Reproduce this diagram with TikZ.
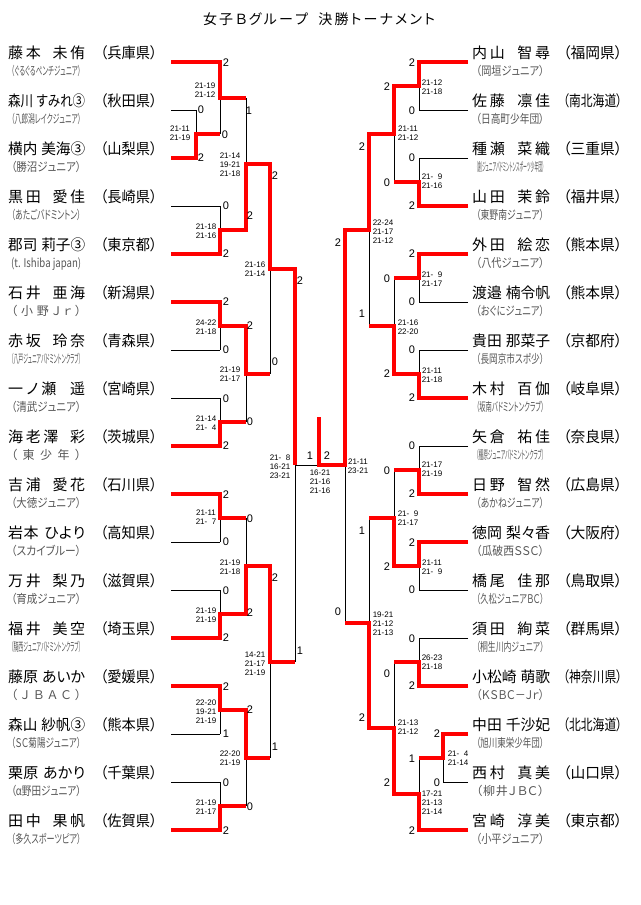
\documentclass[tikz,border=0pt]{standalone}
\usepackage{fontspec}
\usepackage{graphicx}
\newfontfamily\jp{Noto Sans CJK JP}[RawFeature=+palt]
\newfontfamily\lsans{Liberation Sans}
\definecolor{clubgray}{RGB}{85,85,85}
\makeatletter
\def\sprd#1{\sprd@a#1\relax}
\def\sprd@a#1{#1\sprd@b}
\def\sprd@b#1{\ifx#1\relax\else\hfil#1\expandafter\sprd@b\fi}
\makeatother
\newsavebox\fbx
\newcommand\fitbox[2]{\sbox\fbx{#2}\ifdim\wd\fbx>#1\relax\resizebox{#1}{\height}{\usebox\fbx}\else\hbox to #1{#2}\fi}
\tikzset{
 bk/.style={line width=1pt, black},
 rd/.style={line width=3.6pt, red, line join=miter},
 nm/.style={inner sep=0pt, anchor=base west, font=\jp\fontsize{15}{18}\selectfont},
 clb/.style={inner sep=0pt, anchor=base west, font=\jp\fontsize{12}{14}\selectfont, text=clubgray},
 num/.style={inner sep=0pt, anchor=base, font=\lsans\fontsize{11}{13}\selectfont},
 sc/.style={inner sep=0pt, anchor=base, font=\lsans\fontsize{8}{9}\selectfont},
 ttl/.style={inner sep=0pt, anchor=base, font=\jp\fontsize{14}{16}\selectfont},
}
\newcommand\PL[5]{%
 \node[nm] (Ln#1) at (8,#1-3.5) {\fitbox{77pt}{\sprd{#2}\hskip 4pt plus 3fil\sprd{#3}}};
 \node[nm] (Lp#1) at (100,#1-3.5) {\fitbox{57pt}{\sprd{（#4）}}};
 \node[clb] (Lc#1) at (11,#1+13.3) {\fitbox{70pt}{\sprd{#5}}};
}
\newcommand\PR[5]{%
 \node[nm] (Rn#1) at (472,#1-3.5) {\fitbox{78pt}{\sprd{#2}\hskip 4pt plus 3fil\sprd{#3}}};
 \node[nm] (Rp#1) at (563,#1-3.5) {\fitbox{59pt}{\sprd{（#4）}}};
 \node[clb] (Rc#1) at (476,#1+13.3) {\fitbox{68pt}{\sprd{#5}}};
}
\newcommand\SN[3]{\node[num] (N#1x#2) at (#1,#2+4) {#3};}
\newcommand\ST[3]{\foreach \scoretxt [count=\scorei] in {#3} {\node[sc] (S#1x#2x\scorei) at (#1,{#2+2.9+(\scorei-1)*8.7}) {\scoretxt};}}
\newcommand\MT[4]{\draw[bk] (#1,#2) -- (#1,#3) (#1,{(#2+#3)/2}) -- (#4,{(#2+#3)/2});}
\begin{document}
\begin{tikzpicture}[x=1pt,y=-1pt]
\useasboundingbox (0,0) rectangle (640,905);
\node[ttl] (title) at (319,24) {\hbox to 232pt{\sprd{女子Ｂグループ}\hskip 6pt plus 2fil\sprd{決勝トーナメント}}};

% ---------- left skeleton ----------
\foreach \yy in {62,206,254,302,350,398,446,494,542,590,638,686,734,782,830} {\draw[bk] (171,\yy) -- (220,\yy);}
\foreach \yy in {110,158} {\draw[bk] (171,\yy) -- (196,\yy);}
\MT{196}{110}{158}{220}
\MT{220}{62}{134}{246}
\MT{220}{206}{254}{246}
\MT{246}{98}{230}{270}
\MT{220}{302}{350}{246}
\MT{220}{398}{446}{246}
\MT{246}{326}{422}{270}
\MT{270}{164}{374}{295}
\MT{220}{494}{542}{246}
\MT{220}{590}{638}{246}
\MT{246}{518}{614}{270}
\MT{220}{686}{734}{246}
\MT{220}{782}{830}{246}
\MT{246}{710}{806}{270}
\MT{270}{566}{758}{295}
\draw[bk] (295,269) -- (295,662);
% ---------- right skeleton ----------
\foreach \yy in {62,110,158,206,254,302,350,398,446,494,542,590,638,686,830} {\draw[bk] (468,\yy) -- (419,\yy);}
\foreach \yy in {734,782} {\draw[bk] (468,\yy) -- (443,\yy);}
\MT{419}{62}{110}{394}
\MT{419}{158}{206}{394}
\MT{394}{86}{182}{369}
\MT{419}{254}{302}{394}
\MT{419}{350}{398}{394}
\MT{394}{278}{374}{369}
\MT{369}{134}{326}{345}
\MT{419}{446}{494}{394}
\MT{419}{542}{590}{394}
\MT{394}{470}{566}{369}
\MT{419}{638}{686}{394}
\MT{443}{734}{782}{419}
\MT{419}{758}{830}{394}
\MT{394}{662}{794}{369}
\MT{369}{518}{728}{345}
\draw[bk] (345,230) -- (345,623);
\draw[bk] (295,465) -- (345,465);

% ---------- red winner paths ----------
\draw[rd] (171,62) -- (220,62) -- (220,98) -- (246,98);
\draw[rd] (171,158) -- (196,158) -- (196,134) -- (220,134);
\draw[rd] (171,254) -- (220,254) -- (220,230) -- (246,230) -- (246,164) -- (270,164) -- (270,269) -- (295,269) -- (295,465);
\draw[rd] (171,302) -- (220,302) -- (220,326) -- (246,326) -- (246,374) -- (270,374);
\draw[rd] (171,446) -- (220,446) -- (220,422) -- (246,422);
\draw[rd] (171,494) -- (220,494) -- (220,518) -- (246,518);
\draw[rd] (171,638) -- (220,638) -- (220,614) -- (246,614) -- (246,566) -- (270,566) -- (270,662) -- (295,662);
\draw[rd] (171,686) -- (220,686) -- (220,710) -- (246,710) -- (246,758) -- (270,758);
\draw[rd] (171,830) -- (220,830) -- (220,806) -- (246,806);
\draw[rd] (468,62) -- (419,62) -- (419,86) -- (394,86) -- (394,134) -- (369,134) -- (369,230) -- (345,230) -- (345,465) -- (319,465) -- (319,417);
\draw[rd] (468,206) -- (419,206) -- (419,182) -- (394,182);
\draw[rd] (468,254) -- (419,254) -- (419,278) -- (394,278);
\draw[rd] (468,398) -- (419,398) -- (419,374) -- (394,374) -- (394,326) -- (369,326);
\draw[rd] (468,494) -- (419,494) -- (419,470) -- (394,470);
\draw[rd] (468,542) -- (419,542) -- (419,566) -- (394,566) -- (394,518) -- (369,518);
\draw[rd] (468,686) -- (419,686) -- (419,662) -- (394,662);
\draw[rd] (468,734) -- (443,734) -- (443,758) -- (419,758);
\draw[rd] (468,830) -- (419,830) -- (419,794) -- (394,794) -- (394,728) -- (369,728) -- (369,623) -- (345,623);

% ---------- players ----------
\PL{62}{藤本}{未侑}{兵庫県}{（ぐるぐるペンチジュニア）}
\PL{110}{森川}{すみれ③}{秋田県}{（八郎潟レイクジュニア）}
\PL{158}{横内}{美海③}{山梨県}{（勝沼ジュニア）}
\PL{206}{黒田}{愛佳}{長崎県}{（あたごバドミントン）}
\PL{254}{郡司}{莉子③}{東京都}{{(t. Ishiba japan)}}
\PL{302}{石井}{亜海}{新潟県}{（小野Ｊｒ）}
\PL{350}{赤坂}{玲奈}{青森県}{（八戸ジュニアバドミントンクラブ）}
\PL{398}{一ノ瀬}{遥}{宮崎県}{（清武ジュニア）}
\PL{446}{海老澤}{彩}{茨城県}{（東少年）}
\PL{494}{吉浦}{愛花}{石川県}{（大徳ジュニア）}
\PL{542}{岩本}{ひより}{高知県}{（スカイブルー）}
\PL{590}{万井}{梨乃}{滋賀県}{（育成ジュニア）}
\PL{638}{福井}{美空}{埼玉県}{（騎西ジュニアバドミントンクラブ）}
\PL{686}{藤原}{あいか}{愛媛県}{（ＪＢＡＣ）}
\PL{734}{森山}{紗帆③}{熊本県}{（ＳＣ菊陽ジュニア）}
\PL{782}{栗原}{あかり}{千葉県}{（α野田ジュニア）}
\PL{830}{田中}{果帆}{佐賀県}{（多久スポーツピア）}

\PR{62}{内山}{智尋}{福岡県}{（岡垣ジュニア）}
\PR{110}{佐藤}{凛佳}{南北海道}{（日高町少年団）}
\PR{158}{種瀬}{菜織}{三重県}{（創ジュニアバドミントンスポーツ少年団）}
\PR{206}{山田}{茉鈴}{福井県}{（東野南ジュニア）}
\PR{254}{外田}{絵恋}{熊本県}{（八代ジュニア）}
\PR{302}{渡邉}{楠令帆}{熊本県}{（おぐにジュニア）}
\PR{350}{貴田}{那菜子}{京都府}{（長岡京市スポ少）}
\PR{398}{木村}{百伽}{岐阜県}{（坂南バドミントンクラブ）}
\PR{446}{矢倉}{祐佳}{奈良県}{（橿原ジュニアバドミントンクラブ）}
\PR{494}{日野}{智然}{広島県}{（あかねジュニア）}
\PR{542}{徳岡}{梨々香}{大阪府}{（瓜破西ＳＳＣ）}
\PR{590}{橋尾}{佳那}{鳥取県}{（久松ジュニアＢＣ）}
\PR{638}{須田}{絢菜}{群馬県}{（桐生川内ジュニア）}
\PR{686}{小松崎}{萌歌}{神奈川県}{（ＫＳＢＣ－Ｊｒ）}
\PR{734}{中田}{千沙妃}{北北海道}{（旭川東栄少年団）}
\PR{782}{西村}{真美}{山口県}{（柳井ＪＢＣ）}
\PR{830}{宮崎}{淳美}{東京都}{（小平ジュニア）}

% ---------- game counts, left ----------
\SN{226}{62}{2}\SN{201}{109}{0}\SN{201}{157}{2}\SN{225}{134}{0}\SN{249}{110}{1}
\SN{226}{205}{0}\SN{226}{253}{2}\SN{250}{215}{2}\SN{275}{175}{2}
\SN{226}{301}{2}\SN{226}{349}{0}\SN{250}{325}{2}\SN{226}{398}{0}\SN{226}{445}{2}
\SN{250}{421}{0}\SN{275}{361}{0}\SN{300}{280}{2}
\SN{226}{494}{2}\SN{226}{541}{0}\SN{250}{518}{0}\SN{226}{590}{0}\SN{226}{637}{2}
\SN{250}{612}{2}\SN{275}{577}{2}
\SN{226}{686}{2}\SN{226}{733}{1}\SN{250}{709}{2}\SN{226}{782}{0}\SN{226}{830}{2}
\SN{250}{806}{0}\SN{275}{746}{1}\SN{300}{650}{1}
\SN{310}{455}{1}\SN{327}{455}{2}
% ---------- game counts, right ----------
\SN{412}{62}{2}\SN{412}{110}{0}\SN{387}{86}{2}\SN{412}{157}{0}\SN{412}{205}{2}
\SN{387}{182}{0}\SN{362}{146}{2}
\SN{412}{253}{2}\SN{412}{301}{0}\SN{387}{278}{0}\SN{412}{349}{0}\SN{412}{397}{2}
\SN{387}{373}{2}\SN{362}{313}{1}\SN{338}{242}{2}
\SN{412}{445}{0}\SN{412}{493}{2}\SN{387}{470}{0}\SN{412}{542}{2}\SN{412}{589}{0}
\SN{387}{566}{2}\SN{362}{530}{1}
\SN{412}{638}{0}\SN{412}{685}{2}\SN{387}{673}{0}\SN{437}{733}{2}\SN{437}{782}{0}
\SN{412}{758}{1}\SN{412}{830}{2}\SN{387}{782}{2}\SN{362}{717}{2}\SN{338}{611}{0}

% ---------- set scores, left ----------
\ST{205}{86}{21-19,21-12}
\ST{180}{129}{21-11,21-19}
\ST{230}{156}{21-14,19-21,21-18}
\ST{206}{227}{21-18,21-16}
\ST{255}{265}{21-16,21-14}
\ST{206}{323}{24-22,21-18}
\ST{230}{370}{21-19,21-17}
\ST{206}{419}{21-14,21-\hphantom{0}4}
\ST{280}{458}{21-\hphantom{0}8,16-21,23-21}
\ST{206}{513}{21-11,21-\hphantom{0}7}
\ST{230}{563}{21-19,21-18}
\ST{206}{611}{21-19,21-19}
\ST{255}{655}{14-21,21-17,21-19}
\ST{206}{703}{22-20,19-21,21-19}
\ST{230}{754}{22-20,21-19}
\ST{206}{803}{21-19,21-17}
\ST{320}{473}{16-21,21-16,21-16}
% ---------- set scores, right ----------
\ST{432}{83}{21-12,21-18}
\ST{408}{129}{21-11,21-12}
\ST{432}{177}{21-\hphantom{0}9,21-16}
\ST{383}{223}{22-24,21-17,21-12}
\ST{432}{275}{21-\hphantom{0}9,21-17}
\ST{408}{323}{21-16,22-20}
\ST{432}{371}{21-11,21-18}
\ST{358}{462}{21-11,23-21}
\ST{432}{465}{21-17,21-19}
\ST{408}{514}{21-\hphantom{0}9,21-17}
\ST{432}{563}{21-11,21-\hphantom{0}9}
\ST{383}{615}{19-21,21-12,21-13}
\ST{432}{658}{26-23,21-18}
\ST{408}{723}{21-13,21-12}
\ST{458}{754}{21-\hphantom{0}4,21-14}
\ST{432}{794}{17-21,21-13,21-14}
\end{tikzpicture}
\end{document}
